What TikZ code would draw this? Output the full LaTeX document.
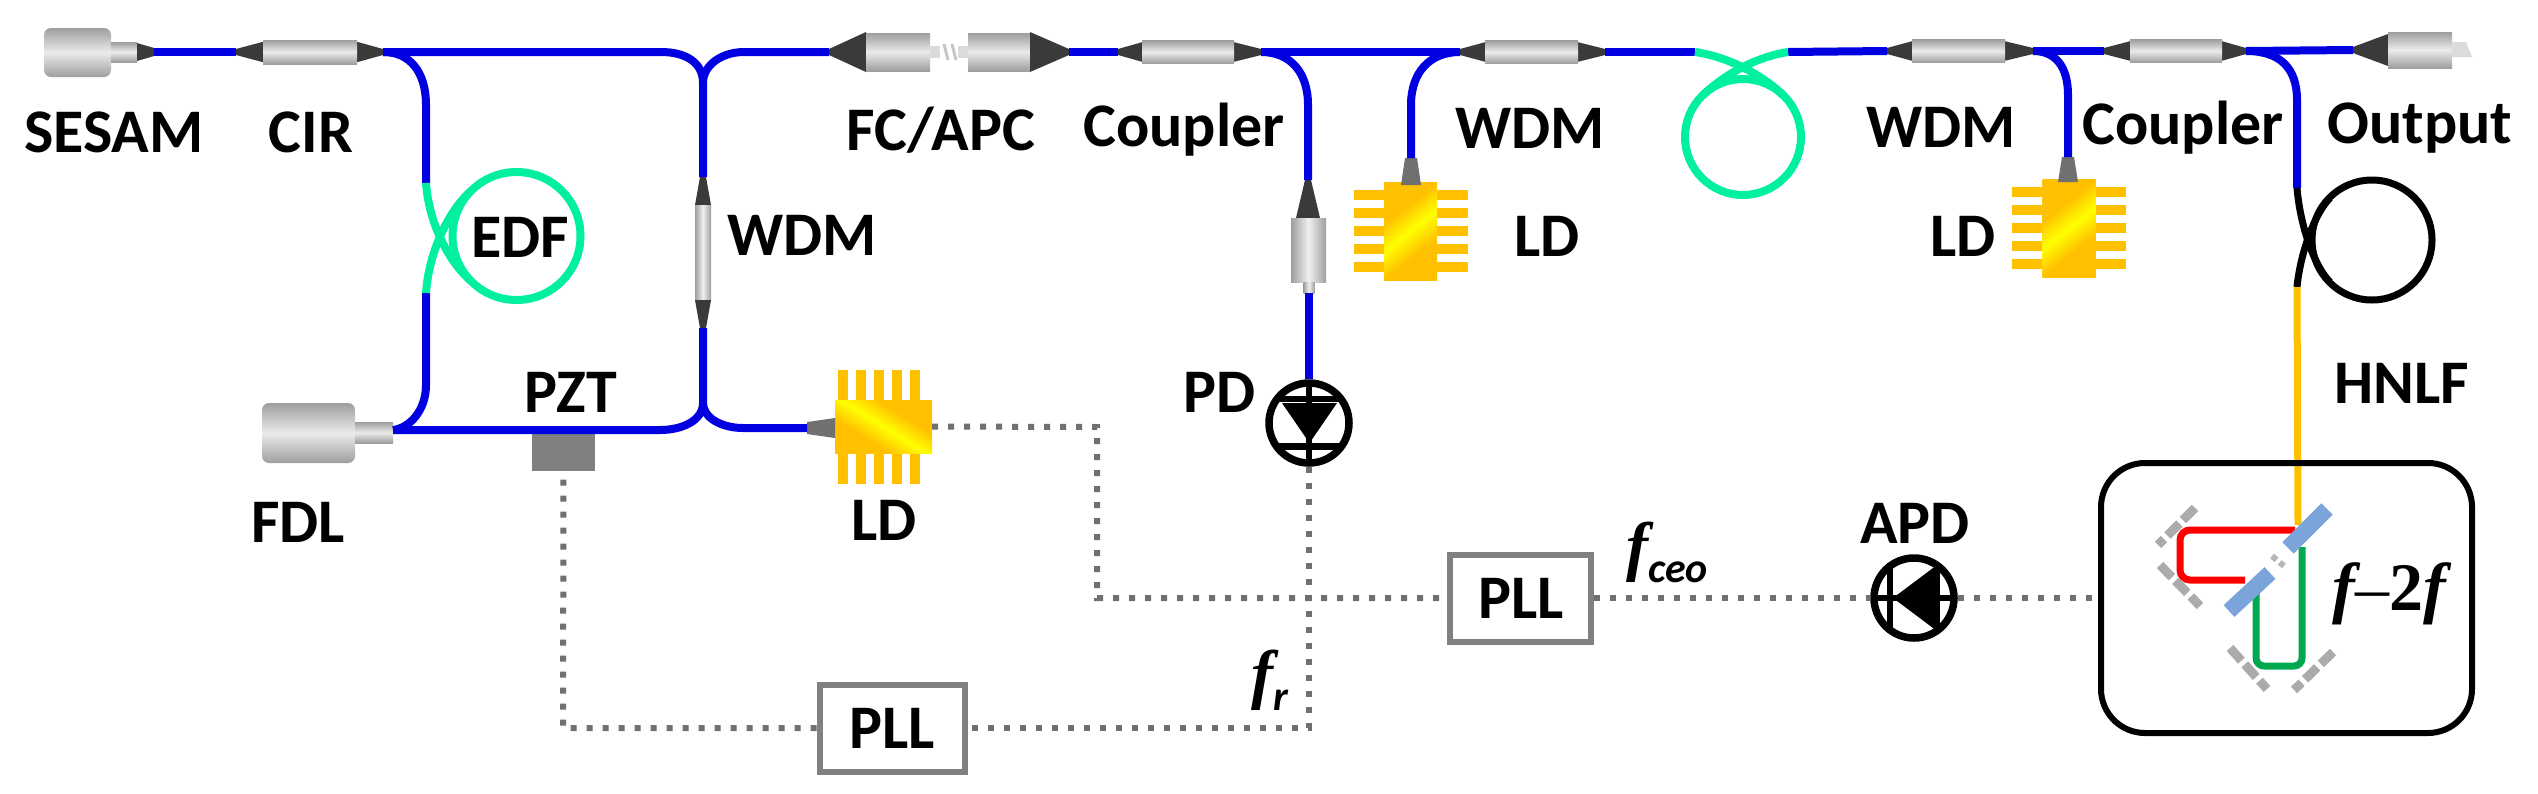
\documentclass[tikz,border=0pt]{standalone}
\usepackage{fontspec}
\setmainfont{Carlito}
\newfontfamily\tnr{Liberation Serif}
\definecolor{fblue}{HTML}{0000E0}
\definecolor{fgreen}{HTML}{00F0A0}
\definecolor{forange}{HTML}{FFC000}
\definecolor{fyellow}{HTML}{FFFF00}
\definecolor{tipc}{HTML}{3A3A3A}
\definecolor{tipg}{HTML}{707070}
\definecolor{dotc}{HTML}{707070}
\definecolor{mirr}{HTML}{ABABAB}
\definecolor{bs}{HTML}{7BA4DA}
\definecolor{sgreen}{HTML}{00A850}
\pgfdeclareverticalshading{chipv}{100bp}{color(0bp)=(forange);color(36bp)=(forange);color(50bp)=(fyellow);color(64bp)=(forange);color(100bp)=(forange)}
\tikzset{
  fibre/.style={draw=fblue,line width=8pt},
  edf/.style={draw=fgreen,line width=8pt},
  hnlfloop/.style={draw=black,line width=7pt},
  dots/.style={draw=dotc,line width=6pt,dash pattern=on 6pt off 10pt},
  hbody/.style={inner sep=0pt,outer sep=0pt,top color=black!38,bottom color=black!38,middle color=black!8,draw=none},
  vbody/.style={inner sep=0pt,outer sep=0pt,left color=black!38,right color=black!38,middle color=black!6,draw=none},
  lab/.style={inner sep=0pt,font=\fontsize{62}{62}\selectfont\bfseries,text=black},
  pllbox/.style={draw=black!50,line width=6pt,fill=white,inner sep=0pt},
  chipbody/.style={inner sep=0pt,outer sep=0pt,draw=none,shade,shading=chipv},
  pin/.style={fill=forange,draw=none},
  mirror/.style={draw=mirr,line width=9pt,dash pattern=on 17pt off 5pt},
  splitter/.style={draw=bs,line width=16pt},
  diode/.style={circle,draw=black,line width=7.5pt,fill=white,minimum size=80pt,inner sep=0pt},
  dbar/.style={draw=black,line width=6pt},
}
% horizontal tip: x0, half height at x0, x1, half height at x1, y
\newcommand{\htip}[6][tipc]{\fill[#1] (#2,#6-#3)--(#4,#6-#5)--(#4,#6+#5)--(#2,#6+#3)--cycle;}
\newcommand{\vtip}[6][tipc]{\fill[#1] (#6-#3,#2)--(#6-#5,#4)--(#6+#5,#4)--(#6+#3,#2)--cycle;}
% name, x0, x1, x2, x3, y, half height of body
\newcommand{\hcoupler}[7]{%
  \htip{#2}{3}{#3}{#7*0.85}{#6}\htip{#5}{3}{#4}{#7*0.85}{#6}
  \node[hbody,minimum width={(#4-#3)*1pt},minimum height={2*#7*1pt}] (#1) at ({(#3+#4)/2},#6) {};
  \coordinate (#1-l) at (#2,#6);\coordinate (#1-r) at (#5,#6);}
% chip with pins left and right: name, cx, cy
\newcommand{\chipH}[3]{%
  \foreach \d in {-36,-18,0,18,36}{
    \fill[pin] (#2-57,#3+\d-5) rectangle (#2+57,#3+\d+5);}
  \node[chipbody,shading angle=38,minimum width=53pt,minimum height=98pt] (#1) at (#2,#3) {};}
\begin{document}
\begin{tikzpicture}[x=1pt,y=-1pt]
\useasboundingbox (0,0) rectangle (2538,793);
\fill[white] (0,0) rectangle (2538,793);

% ---------- components on the top line
\node[hbody,rounded corners=7pt,minimum width=67pt,minimum height=49pt] (sesam) at (77.5,52.5) {};
\node[hbody,minimum width=26pt,minimum height=20pt] (sesamneck) at (124,52) {};
\htip{137}{9}{154}{4}{52}
\coordinate (sesam-r) at (154,52);
\hcoupler{cir}{236}{263}{357}{383}{52}{12}

\htip{829}{3}{866}{20}{52}
\node[hbody,minimum width=64pt,minimum height=38pt] (fcA) at (898,52) {};
\coordinate (fcA-l) at (829,52);
\fill[black!14] (930,46) rectangle (940,58);
\fill[black!14] (958,46) rectangle (968,58);
\draw[black!22,line width=3pt] (944,44)--(948,60) (952,44)--(956,60);
\node[hbody,minimum width=62pt,minimum height=38pt] (fcB) at (999,52) {};
\htip{1069}{3}{1030}{20}{52}
\coordinate (fcB-r) at (1069,52);

\hcoupler{cpA}{1118}{1142}{1234}{1261}{52}{11.5}
\hcoupler{wdmB}{1460}{1485}{1578}{1605}{52}{11.5}
\hcoupler{wdmC}{1887}{1912}{2005}{2033}{51}{11.5}
\hcoupler{cpB}{2104}{2130}{2222}{2246}{51}{11.5}

\htip{2353}{3}{2388}{16}{50}
\node[hbody,minimum width=64pt,minimum height=36pt] (outp) at (2420,50) {};
\fill[black!14] (2452,42) -- (2466,42) -- (2472,57) -- (2452,57) -- cycle;
\coordinate (outp-l) at (2353,50);

% ---------- vertical components
\vtip{177}{3}{205}{8}{703}
\node[vbody,minimum width=16pt,minimum height=95pt] (wdmA) at (703,252.5) {};
\vtip{328}{3}{300}{8}{703}
\coordinate (wdmA-t) at (703,177);\coordinate (wdmA-b) at (703,328);

\vtip{180}{3}{218}{12}{1308}
\node[vbody,minimum width=35pt,minimum height=64pt] (pdc) at (1308.5,250) {};
\node[vbody,minimum width=11pt,minimum height=11pt] (pdcneck) at (1309,287.5) {};
\coordinate (pdc-t) at (1308,180);

% FDL
\node[hbody,rounded corners=7pt,minimum width=93pt,minimum height=60pt] (fdl) at (308.5,433) {};
\node[hbody,minimum width=38pt,minimum height=21pt] (fdlneck) at (374,432.5) {};
\coordinate (fdl-r) at (393,430);

% PZT
\node[fill=black!50,draw=none,inner sep=0pt,minimum width=63pt,minimum height=38pt] (pzt) at (563.5,452) {};

% ---------- junction points
\coordinate (jA) at (703,83);
\coordinate (jB) at (703,403);
\coordinate (edfT) at (426,183);
\coordinate (edfB) at (426,293);
\coordinate (ringT) at (1695,52);
\coordinate (ringB) at (1788,52);
\coordinate (hnlfT) at (2297,188);
\coordinate (hnlfB) at (2297,287);
\coordinate (bsHit) at (2298,525);

% ---------- laser diodes
\foreach \x in {843,861,879,897,915}{
  \fill[pin] (\x-5,370) rectangle (\x+5,484);}
\node[chipbody,shading angle=-32,minimum width=97pt,minimum height=53pt] (ldA) at (883.5,426.5) {};
\htip[tipg]{807}{6}{835}{10}{428}
\coordinate (ldA-l) at (807,428);

\chipH{ldB}{1410.5}{231}
\vtip[tipg]{158}{6}{185}{10}{1411}
\coordinate (ldB-t) at (1411,158);

\chipH{ldC}{2069}{228}
\vtip[tipg]{157}{6}{182}{10}{2068}
\coordinate (ldC-t) at (2068,157);

% ---------- diode nodes (fibres and dotted lines end on them)
\node[diode] (pd) at (1309,423) {};
\node[diode] (apd) at (1914,598) {};

% ---------- fibres
\draw[fibre] (sesam-r)--(cir-l);
\draw[fibre] (cir-r) -- (661,52) .. controls (685,52) and (703,62) .. (jA) -- (wdmA-t);
\draw[fibre] (cir-r) .. controls (410,52) and (426,72) .. (426,105) -- (edfT);
\draw[fibre] (edfB) -- (426,385) .. controls (426,410) and (410,428) .. (fdl-r);
\draw[fibre] (fdl-r) -- (660,430) .. controls (683,430) and (703,420) .. (jB);
\draw[fibre] (wdmA-b) -- (jB) .. controls (703,418) and (722,428) .. (743,428) -- (ldA-l);
\draw[fibre] (jA) .. controls (703,65) and (722,52) .. (744,52) -- (fcA-l);
\draw[fibre] (fcB-r) -- (cpA-l);
\draw[fibre] (cpA-r) -- (wdmB-l);
\draw[fibre] (cpA-r) .. controls (1290,52) and (1308,72) .. (1308,105) -- (pdc-t);
\draw[fibre] (pdcneck.south) -- (pd.north);
\draw[fibre] (wdmB-l) .. controls (1430,52) and (1411,72) .. (1411,105) -- (ldB-t);
\draw[fibre] (wdmB-r) -- (ringT);
\draw[fibre] (ringB) -- (wdmC-l);
\draw[fibre] (wdmC-r) -- (cpB-l);
\draw[fibre] (wdmC-r) .. controls (2055,51) and (2068,66) .. (2068,95) -- (ldC-t);
\draw[fibre] (cpB-r) -- (outp-l);
\draw[fibre] (cpB-r) .. controls (2280,51) and (2297,68) .. (2297,100) -- (hnlfT);

% ---------- fibre loops
\draw[edf] (516.5,236) circle[radius=64];
\draw[edf] (edfT) .. controls (429,225) and (450,263) .. (471,281);
\draw[edf] (471,191) .. controls (450,209) and (429,250) .. (edfB);
\draw[edf] (1743,137) circle[radius=58];
\draw[edf] (ringT) .. controls (1735,58) and (1768,80) .. (1784,96);
\draw[edf] (1702,96) .. controls (1718,80) and (1750,58) .. (ringB);
\draw[hnlfloop] (2372,240) circle[radius=60];
\draw[hnlfloop] (hnlfT) .. controls (2300,225) and (2314,266) .. (2330,282);
\draw[hnlfloop] (2330,198) .. controls (2314,214) and (2300,255) .. (hnlfB);
\draw[draw=forange,line width=7pt] (hnlfB) -- (bsHit);

% ---------- f-2f box
\node[draw=black,line width=6pt,rounded corners=44pt,inner sep=0pt,minimum width=371pt,minimum height=270pt] (box) at (2286.5,598) {};
\draw[red,line width=7pt,rounded corners=10pt] (2295,530) -- (2180,530) -- (2180,580) -- (2245,580);
\draw[draw=sgreen,line width=7pt,rounded corners=8pt] (2302,547) -- (2302,666) -- (2256,666) -- (2256,593);
\draw[mirror] (2195,508) -- (2158,545);
\draw[mirror] (2160,565) -- (2200,606);
\draw[mirror] (2230,648) -- (2267,689);
\draw[mirror] (2333,652) -- (2294,690);
\draw[splitter] (2327,509) -- (2288,548);
\draw[splitter] (2270,573) -- (2229,611);
\draw[black!28,line width=6pt,dash pattern=on 6pt off 4pt] (2272,556) -- (2284,566);
\node[inner sep=0pt,font=\fontsize{68}{68}\selectfont\tnr] (ftwof) at (2389,594) {{\bfseries\itshape f}–{\bfseries 2}{\bfseries\itshape f}};

% ---------- diode symbols and PLLs
\fill[black] (1282,403) -- (1337,403) -- (1309.5,443) -- cycle;
\draw[dbar] (1278,399) -- (1340,399);
\draw[dbar,line width=7pt] (1277,446) -- (1341,446);
\draw[dbar] (1309,383) -- (1309,463);

\fill[black] (1893,598) -- (1937,565) -- (1937,631) -- cycle;
\draw[dbar] (1890,563) -- (1890,633);
\draw[dbar] (1937,563) -- (1937,633);
\draw[dbar] (1874,598) -- (1954,598);

\node[pllbox,minimum width=141pt,minimum height=87pt] (pllA) at (1520,598) {};
\node[pllbox,minimum width=145pt,minimum height=87pt] (pllB) at (892,728) {};

\coordinate (cA) at (1097,427);
\coordinate (cB) at (1309,728);
\coordinate (cC) at (563,728);
\draw[dots] (ldA.east) -- (cA) -- (cA |- pllA.west) -- (pllA.west);
\draw[dots] (pllA.east) -- (apd.west);
\draw[dots] (apd.east) -- (box.west);
\draw[dots] (pd.south) -- (cB) -- (pllB.east);
\draw[dots] (pllB.west) -- (cC) -- (pzt.south);

% ---------- labels
\node[lab] (tSesam) at (114,132) {SESAM};
\node[lab] (tCir) at (311,132) {CIR};
\node[lab] (tEdf) at (520,237) {EDF};
\node[lab] (tFc) at (941,130) {FC/APC};
\node[lab] (tWdmA) at (802,235) {WDM};
\node[lab] (tPzt) at (571,392) {PZT};
\node[lab] (tFdl) at (298,522) {FDL};
\node[lab] (tLdA) at (884,520) {LD};
\node[lab] (tCpA) at (1184,130) {Coupler};
\node[lab] (tWdmB) at (1530,128) {WDM};
\node[lab] (tLdB) at (1547,236) {LD};
\node[lab] (tPd) at (1220,392) {PD};
\node[lab] (tWdmC) at (1941,127) {WDM};
\node[lab] (tLdC) at (1963,236) {LD};
\node[lab] (tCpB) at (2183,128) {Coupler};
\node[lab] (tOut) at (2420,128) {Output};
\node[lab] (tHnlf) at (2402,383) {HNLF};
\node[lab] (tApd) at (1915,523) {APD};
\node[lab] (tPllA) at (1521,598) {PLL};
\node[lab] (tPllB) at (892,728) {PLL};
\node[inner sep=0pt,anchor=base west,font=\fontsize{66}{66}\selectfont\tnr\bfseries\itshape] (tFceo) at (1626,568) {f\raisebox{-14pt}{\fontsize{42}{42}\selectfont\rmfamily\bfseries\itshape ceo}};
\node[inner sep=0pt,anchor=base west,font=\fontsize{66}{66}\selectfont\tnr\bfseries\itshape] (tFr) at (1251,696) {f\raisebox{-14pt}{\fontsize{42}{42}\selectfont\rmfamily\bfseries\itshape r}};
\end{tikzpicture}
\end{document}
